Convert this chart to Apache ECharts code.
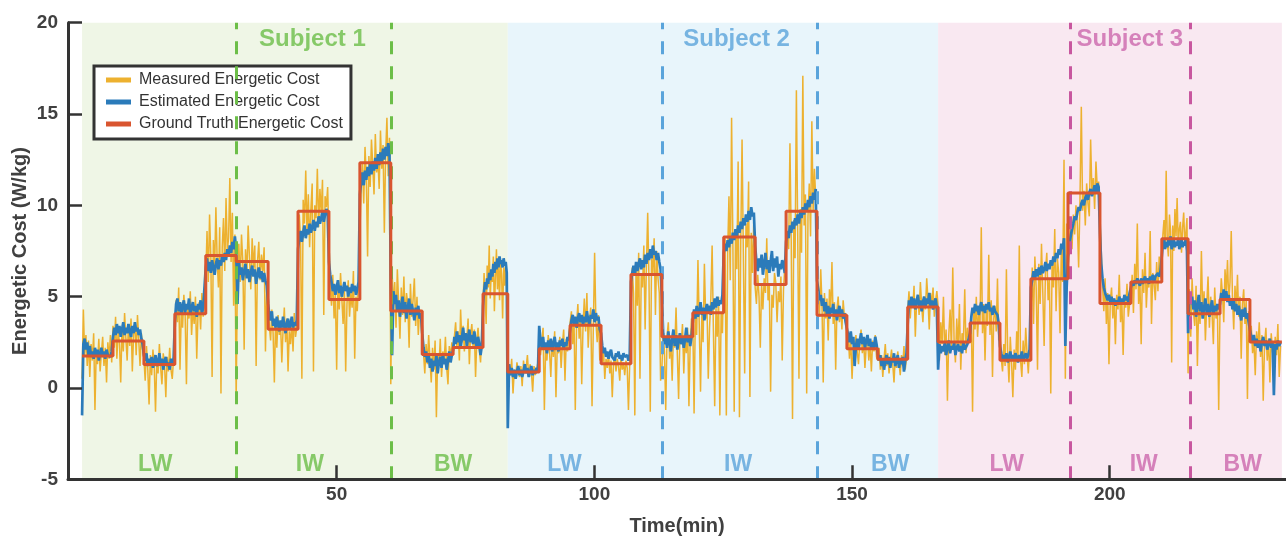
<!DOCTYPE html>
<html><head><meta charset="utf-8">
<script src="https://cdn.jsdelivr.net/npm/echarts@6/dist/echarts.min.js"></script>
<style>html,body{margin:0;padding:0;background:#fff}#c{width:1286px;height:536px}</style>
</head><body><div id="c"></div>
<script>
// step boundaries (min): 39 steps + final end
const stepBounds = [0.6,6.6,12.6,18.6,24.6,30.5,36.7,42.5,48.5,54.5,60.5,66.6,72.6,78.4,
  83.2,89.3,95.3,101.3,107.1,113.1,119.1,125.1,131.2,137.2,143.2,149.0,155.0,160.8,
  166.7,172.9,178.7,184.7,191.9,198.1,204.1,210.1,215.2,221.4,227.2,233.4];
const groundTruth = [1.75,2.57,1.28,4.07,7.26,6.93,3.21,9.68,4.85,12.33,4.21,1.83,2.21,5.16,
  0.88,2.15,3.43,1.33,6.22,2.81,4.12,8.26,5.66,9.68,3.98,2.15,1.57,4.43,
  2.52,3.56,1.52,5.98,10.67,4.62,5.8,8.17,4.07,4.84,2.52];
const measured = [
 [0.5,4.3,1.8,2.9,1.2,2.6,0.6,2.4,1.5,3.0,-1.2,2.1,1.3,2.7,0.9,1.9,2.8,1.2,2.2,0.3,2.5,1.6,2.9,1.4],
 [3.4,2.2,3.9,1.6,3.1,2.5,0.3,3.3,2.0,4.1,2.7,1.5,3.5,2.3,3.8,0.9,2.9,3.6,1.8,4.0,2.6,1.2,3.0,2.1],
 [1.6,0.4,2.3,1.0,-0.9,1.8,0.7,2.1,1.2,-1.3,1.5,0.8,2.4,1.1,0.2,1.9,1.3,-0.5,1.7,0.9,2.2,1.0,0.5,1.6],
 [2.5,4.8,3.6,5.5,1.0,4.2,3.3,5.1,4.0,0.2,4.6,3.8,5.3,2.9,4.4,3.5,5.0,1.6,4.1,4.7,3.2,5.2,3.9,4.5],
 [6.0,8.6,5.8,9.5,7.2,0.6,8.1,6.6,9.9,7.0,5.5,8.8,-0.3,7.7,9.3,6.4,10.4,7.5,8.2,11.5,6.9,9.6,4.5,8.4],
 [-0.7,6.5,7.9,5.8,8.4,6.9,2.1,7.6,6.2,8.9,7.1,5.4,8.2,6.6,7.8,1.2,6.9,8.0,5.9,7.3,6.4,7.7,2.0,5.5],
 [5.5,3.4,2.6,4.3,3.0,0.3,3.7,2.2,4.0,2.9,3.5,1.4,3.2,4.4,2.5,3.8,0.9,3.1,2.4,3.6,2.0,4.1,2.8,3.3],
 [7.0,9.5,8.1,0.5,10.3,9.0,11.9,8.4,10.6,7.7,9.8,11.2,0.9,10.0,9.3,12.0,8.8,10.9,9.6,11.4,4.0,10.5,9.9,11.0],
 [8.0,5.6,4.5,6.2,3.8,5.1,1.0,5.7,4.3,6.3,4.9,3.5,5.4,0.9,4.6,5.9,3.9,5.2,4.4,6.4,1.6,5.0,4.2,6.0],
 [6.0,10.8,12.3,10.1,13.2,11.5,7.2,12.7,11.0,13.6,12.2,10.6,13.9,11.8,12.5,10.9,14.1,12.0,13.3,8.5,12.8,14.8,11.6,13.7],
 [0.2,6.3,4.5,5.8,3.3,6.5,4.7,2.7,5.5,4.0,6.1,3.6,5.2,4.6,2.2,5.7,3.9,4.8,6.0,3.4,5.0,2.9,4.3,3.7],
 [2.6,1.9,0.8,2.4,1.3,2.9,1.6,0.3,2.2,1.0,2.6,-1.6,1.8,1.2,2.7,0.6,2.0,1.4,2.8,1.1,0.2,2.3,1.7,2.5],
 [1.9,2.8,3.6,2.2,3.1,1.5,4.3,2.5,3.4,2.0,3.0,2.7,3.8,1.3,2.9,3.5,2.3,3.2,0.6,2.6,3.3,2.1,1.4,2.8],
 [4.6,6.3,5.2,3.5,6.7,5.5,7.8,4.9,6.4,5.8,7.2,4.2,6.0,7.6,5.4,6.9,4.8,7.0,6.2,3.8,6.6,5.6,6.9,5.0],
 [0.4,1.3,0.7,1.6,-0.3,1.0,0.5,1.4,0.9,0.6,1.2,0.1,1.5,0.8,1.1,1.8,0.6,1.3,0.9,-0.2,1.2,0.7,1.0,1.4],
 [2.9,1.8,2.5,3.3,-1.2,2.2,1.5,2.9,2.0,0.6,2.6,1.7,3.1,-0.5,2.3,1.9,2.8,1.1,2.4,3.2,0.4,2.7,2.0,3.0],
 [3.0,4.2,2.4,3.8,-1.2,3.5,4.6,2.7,3.9,0.2,3.4,4.9,3.1,5.2,2.2,3.7,4.4,-1.0,3.3,7.4,3.6,2.5,4.0,1.5],
 [2.8,1.4,2.0,0.5,1.6,1.1,1.9,0.8,1.5,-0.5,1.3,1.8,0.9,1.6,1.2,0.4,1.7,1.0,1.4,0.7,1.5,1.1,-1.2,1.3],
 [3.5,6.6,5.2,-1.5,6.9,4.5,7.4,0.5,6.2,5.5,7.8,3.2,6.7,9.6,5.9,-1.3,7.1,6.3,8.2,4.0,7.5,6.0,5.2,0.4],
 [1.0,3.2,2.0,-1.2,2.8,3.6,1.6,2.5,0.4,3.1,2.2,4.4,1.8,-0.6,2.9,2.4,3.5,0.8,2.7,1.9,3.3,-1.0,2.6,3.8],
 [3.6,-1.4,4.2,2.9,7.0,3.5,-0.2,4.0,2.5,6.8,3.8,4.6,0.5,3.3,4.9,7.8,3.1,-1.0,4.4,2.8,5.0,-1.5,4.1,3.0],
 [6.8,8.2,-1.5,7.4,10.5,5.9,14.8,7.9,-1.3,8.6,6.5,12.4,-1.6,8.0,13.6,7.2,0.8,9.0,7.7,11.3,-0.5,8.5,6.3,9.4],
 [5.5,4.6,6.2,5.0,2.2,5.7,4.3,6.0,5.2,8.2,4.8,5.6,-0.2,5.1,4.4,6.3,5.8,3.6,5.3,4.7,6.1,1.5,5.4,6.6],
 [6.9,8.5,7.6,13.4,8.0,-1.7,9.2,7.1,16.3,8.6,0.5,9.8,7.4,17.1,8.9,10.6,-0.3,9.4,11.2,8.3,14.6,9.7,12.0,10.4],
 [4.5,5.6,3.9,6.5,4.6,0.3,5.2,3.8,4.9,2.6,5.4,4.2,6.9,3.5,4.7,1.0,4.3,5.0,3.6,4.4,3.2,4.8,3.9,4.1],
 [2.4,3.0,1.6,2.7,0.5,2.2,1.8,2.9,2.0,1.3,2.5,3.2,1.9,2.6,1.1,2.3,2.8,1.5,2.4,0.9,2.6,2.0,2.9,1.7],
 [1.5,2.2,1.0,1.8,0.6,1.6,2.4,1.2,1.9,0.8,1.5,2.1,1.3,0.3,1.7,1.1,2.0,1.4,0.7,1.8,1.2,2.3,1.0,1.6],
 [4.2,5.3,3.8,4.9,4.4,5.6,2.8,4.7,5.1,4.0,5.8,4.5,3.6,5.0,4.3,6.0,4.8,3.2,5.2,4.6,5.5,3.9,4.8,5.3],
 [4.5,1.5,3.6,2.4,5.0,1.8,3.2,-0.7,2.9,4.3,2.1,6.6,2.6,1.4,3.8,2.2,4.6,1.0,3.0,2.5,5.4,1.9,3.3,2.7],
 [2.5,3.9,-1.3,4.4,3.2,5.0,2.8,4.1,3.6,8.8,3.0,4.6,1.5,4.2,3.4,7.3,2.9,4.8,0.6,3.8,4.5,3.1,6.0,2.6],
 [3.5,1.6,0.9,2.4,1.2,6.5,1.8,0.3,2.8,1.4,-0.5,2.1,1.0,3.1,1.7,7.8,1.5,0.6,2.6,1.3,3.3,1.9,0.8,2.2],
 [4.0,6.6,3.5,7.2,5.5,1.0,6.8,4.6,7.9,5.2,2.3,6.4,7.4,4.8,6.0,-0.3,6.9,5.5,8.7,4.2,7.1,6.3,3.0,7.8,5.8,12.5,0.5,9.0],
 [6.5,8.0,9.1,7.6,9.5,8.4,10.0,9.0,6.6,10.3,15.4,9.7,10.8,8.9,11.2,10.1,9.4,13.6,10.6,11.5,9.8,12.4,10.9,11.3],
 [9.2,7.5,5.6,4.2,6.0,3.5,5.2,1.3,4.7,5.5,3.8,4.9,2.4,5.1,4.3,6.2,3.6,4.8,1.8,5.0,4.4,5.7,3.9,4.6],
 [5.0,6.2,4.1,6.8,5.4,9.0,4.6,5.9,2.4,6.5,5.2,7.4,4.4,6.0,5.5,8.6,3.5,6.3,5.7,4.8,6.9,5.3,7.2,6.0],
 [7.0,8.4,9.2,7.6,11.9,8.0,7.2,9.5,8.6,1.4,8.9,7.5,9.8,8.3,10.4,7.8,8.7,9.1,7.4,8.8,9.6,7.9,8.5,9.3],
 [0.8,5.4,2.8,6.0,4.2,3.4,5.6,1.2,4.7,3.5,7.5,4.0,5.3,2.6,4.5,6.1,3.3,5.0,4.1,2.4,5.5,3.8,4.6,-1.2],
 [4.4,6.0,5.1,3.6,6.5,5.3,7.0,4.7,5.8,8.6,4.9,3.2,5.6,4.3,6.2,3.9,5.0,1.6,4.6,5.4,3.5,4.8,-0.6,4.2],
 [2.8,3.4,1.9,2.6,0.7,3.1,2.2,3.6,1.7,2.9,-0.7,2.4,3.3,1.5,2.7,0.3,3.0,2.0,1.2,2.8,1.8,3.5,0.6,2.3]
];
const estimated = [
 [-1.5,2.4,2.7,2.1,2.5,1.8,2.3,1.7,2.0,1.6,2.2,1.8,2.1,1.5,1.9,2.2,1.7,2.0,1.6,2.1,1.8,1.9,1.7,2.0],
 [2.8,3.3,2.9,3.5,3.0,3.4,2.8,3.2,3.6,2.9,3.3,3.0,3.5,3.1,2.8,3.4,3.0,3.6,3.1,3.3,2.9,3.2,2.7,2.4],
 [1.8,1.5,1.9,1.2,1.6,1.3,1.7,1.1,1.5,1.8,1.2,1.4,1.9,1.3,1.6,1.0,1.5,1.7,1.2,1.4,1.0,1.6,1.3,1.5],
 [3.6,4.6,4.9,4.2,4.7,4.0,4.5,4.8,4.1,4.6,4.3,4.9,4.0,4.4,4.7,4.2,4.5,3.9,4.6,4.3,4.8,4.1,4.4,4.5],
 [6.6,7.1,6.4,6.9,6.3,7.0,6.6,6.2,6.8,7.1,6.5,7.0,6.7,7.3,6.9,7.4,7.0,7.6,7.2,7.8,7.4,8.0,7.6,8.3],
 [7.5,4.6,6.9,6.2,6.6,5.9,6.4,6.8,6.0,6.5,5.8,6.3,6.7,6.1,6.5,5.7,6.2,6.6,6.0,6.4,5.8,6.3,5.9,5.6],
 [4.6,4.0,3.7,4.2,3.4,3.8,3.3,3.9,3.5,3.1,3.7,3.3,3.9,3.4,3.0,3.6,3.8,3.2,3.5,3.9,3.3,3.6,3.4,3.7],
 [7.6,8.2,8.6,8.0,8.5,8.9,8.2,8.7,8.4,9.0,8.5,8.8,9.2,8.6,9.1,8.8,9.4,9.0,9.3,9.7,9.1,9.5,9.8,9.6],
 [6.9,6.2,5.8,5.3,5.7,5.1,5.5,5.9,5.2,5.6,5.0,5.4,5.8,5.3,5.6,5.0,5.5,5.2,5.7,5.3,5.6,5.1,5.4,5.8],
 [10.6,11.3,11.8,11.1,11.9,11.4,12.1,11.6,12.3,11.7,12.4,11.9,12.6,12.0,12.8,12.2,12.9,12.4,13.1,12.5,13.2,12.7,13.4,12.9],
 [5.8,1.8,5.3,4.6,5.1,4.2,4.8,3.9,4.5,5.0,4.1,4.7,3.8,4.4,4.9,4.0,4.6,4.2,3.7,4.4,4.0,4.5,3.8,4.1],
 [3.0,2.2,1.7,2.0,1.4,1.8,1.1,1.6,0.9,1.5,1.2,1.8,0.8,1.4,1.7,1.1,1.9,1.3,1.6,1.0,1.5,2.0,1.4,1.8],
 [2.1,2.8,2.4,3.1,2.5,2.9,2.2,2.7,3.3,2.6,3.0,2.3,2.8,3.2,2.5,2.9,2.4,3.1,2.6,2.2,2.8,2.4,1.8,2.3],
 [4.5,5.3,5.8,5.4,6.0,5.7,6.3,5.9,6.5,6.1,6.8,6.3,6.9,6.5,7.1,6.6,7.2,6.8,7.0,6.6,7.1,6.7,6.9,6.3],
 [-2.2,1.3,0.7,1.1,0.6,1.0,0.5,0.9,1.2,0.7,1.0,0.6,0.9,1.3,0.8,1.1,0.6,0.9,1.2,0.7,1.0,0.8,1.1,0.9],
 [3.4,2.6,2.2,2.8,2.1,2.5,1.9,2.6,2.2,2.7,2.0,2.4,2.8,2.2,2.5,2.0,2.6,2.3,2.7,2.1,2.5,2.3,2.8,2.6],
 [3.2,3.7,4.0,3.5,3.9,3.3,3.8,4.1,3.6,4.0,3.4,3.9,3.6,4.2,3.7,3.5,4.0,3.8,4.3,3.6,4.1,3.7,3.9,3.2],
 [3.0,2.3,1.9,2.2,1.7,2.0,1.6,1.9,2.1,1.7,1.8,1.5,1.9,1.7,2.0,1.6,1.8,1.5,1.9,1.7,1.6,1.8,1.5,1.7],
 [5.8,6.3,6.7,6.2,6.9,6.4,6.8,7.1,6.5,7.0,6.6,7.3,6.8,7.4,7.0,7.6,7.1,7.8,7.3,7.5,7.0,7.4,6.9,6.5],
 [5.0,3.0,2.4,2.8,2.2,3.1,2.5,2.0,2.7,3.2,2.3,2.9,2.1,2.6,3.0,2.4,2.8,2.2,2.7,3.3,2.5,2.9,2.3,2.8],
 [3.6,4.3,3.8,4.5,3.9,4.2,4.7,4.0,4.4,3.7,4.3,4.6,4.1,4.5,4.0,4.7,4.3,4.9,4.4,5.0,4.5,4.8,4.6,5.1],
 [7.4,7.9,7.5,8.1,7.7,8.3,7.9,8.5,8.1,8.7,8.3,8.9,8.5,9.1,8.7,9.3,8.9,9.5,9.1,9.7,9.2,9.9,9.4,9.6],
 [7.8,6.9,6.4,7.1,6.6,7.3,6.2,6.8,7.4,6.5,7.0,6.3,6.9,7.5,6.4,7.1,6.6,7.2,6.1,6.8,6.5,7.0,6.7,6.3],
 [8.0,8.6,8.2,8.9,8.5,9.1,8.7,9.3,8.9,9.5,9.0,9.7,9.3,9.9,9.5,10.1,9.7,10.3,9.9,10.5,10.1,10.7,10.3,10.9],
 [5.9,5.4,4.8,5.1,4.5,4.9,4.2,4.7,4.0,4.5,3.8,4.4,4.1,4.6,3.9,4.3,3.7,4.2,4.5,3.9,4.3,3.8,4.1,3.6],
 [3.5,2.9,2.5,3.1,2.4,2.8,1.2,2.3,2.7,2.1,2.6,3.0,2.4,2.8,2.2,2.6,2.9,2.3,2.7,2.1,2.5,2.2,2.8,2.4],
 [1.9,1.5,1.8,1.2,1.6,1.0,1.5,1.8,1.3,1.7,1.1,1.6,1.4,1.9,1.2,1.5,1.8,1.1,1.6,1.3,1.7,0.9,1.5,1.9],
 [3.5,4.8,4.5,5.0,4.4,4.9,4.3,4.7,5.1,4.5,4.8,4.2,4.7,5.0,4.4,4.9,4.6,5.2,4.5,4.8,4.3,4.7,4.9,4.4],
 [1.0,2.4,1.9,2.3,2.0,2.5,1.8,2.2,2.6,1.9,2.3,2.1,2.5,1.8,2.2,2.4,2.0,2.3,1.9,2.5,2.1,2.2,2.4,2.3],
 [3.0,3.9,4.4,4.1,4.6,4.2,4.5,4.0,4.4,4.7,4.2,4.5,4.1,4.6,4.3,4.7,4.2,4.4,4.0,4.5,4.2,4.3,4.0,3.5],
 [2.3,1.9,1.6,1.8,1.5,1.9,1.4,1.7,2.0,1.6,1.8,1.5,1.9,1.7,1.4,1.8,1.6,2.0,1.5,1.7,1.9,1.6,1.8,2.1],
 [5.5,5.9,6.4,6.0,6.5,6.1,6.6,6.2,6.7,6.3,6.5,6.9,6.4,6.8,6.5,7.0,6.7,7.2,6.9,7.4,7.1,7.6,7.3,7.9,7.6,8.2,2.3,5.5],
 [7.2,7.8,8.3,8.7,9.0,9.4,9.2,9.6,9.9,9.7,10.1,10.3,10.0,10.4,10.6,10.3,10.7,10.9,10.5,10.8,11.1,10.7,11.2,11.0],
 [8.5,6.8,6.0,5.5,5.2,5.0,4.8,5.1,4.7,5.0,4.6,4.9,4.5,4.8,4.6,5.0,4.7,4.9,4.6,5.1,4.8,5.0,4.7,5.2],
 [5.5,5.8,5.6,5.9,5.7,6.0,5.8,5.6,6.0,5.7,5.9,6.1,5.8,6.0,5.7,6.1,5.9,6.2,5.8,6.1,6.0,6.3,6.1,6.4],
 [7.2,7.9,8.2,7.6,8.0,7.7,8.1,7.8,8.3,7.6,7.9,8.1,7.7,8.0,7.8,8.2,7.6,7.9,8.1,7.7,8.0,7.8,8.2,7.5],
 [3.0,5.2,4.6,5.0,4.3,4.8,3.9,4.5,5.1,4.2,4.7,3.8,4.4,4.9,4.1,4.6,3.9,4.4,4.8,4.0,4.5,4.2,4.6,4.3],
 [4.6,5.2,4.8,5.4,4.9,5.3,4.7,5.1,4.5,4.9,4.3,4.8,4.2,4.6,4.0,4.5,4.1,3.7,4.3,3.9,4.4,3.8,4.1,3.6],
 [3.2,2.8,2.5,2.9,2.3,2.7,2.2,2.6,2.0,2.5,2.8,2.3,2.6,2.1,2.4,2.7,2.2,2.5,-0.4,2.4,2.1,2.6,2.3,2.5]
];
const subjectSpans = [[0.6,83.2],[83.2,166.7],[166.7,233.4]];
const subjectNames = ['Subject 1','Subject 2','Subject 3'];
const subjectLabelX = [45.3,127.6,203.9];
const phaseBounds = [[30.6,60.5],[113.2,143.3],[192.3,215.7]];
const phaseNames = ['LW','IW','BW'];
const phaseLabelX = [[14.8,44.8,72.6],[94.2,127.9,157.4],[180.0,206.6,225.8]];
const xTicks = [50,100,150,200];
const seriesNames = ['Measured Energetic Cost','Estimated Energetic Cost','Ground Truth Energetic Cost'];

// styles
const bgColors = ['#EFF6E6','#E8F5FB','#F9E8F1'];
const accent = ['#6CBE48','#5AA4DB','#C8579F'];
const textAccent = ['#6CBE48','#5AA4DB','#CC66AC'];
const FONT = 'Liberation Sans, Arial, sans-serif';

function toPairs(groups){
  const out=[];
  groups.forEach((vals,k)=>{
    const s=stepBounds[k], e=stepBounds[k+1], n=vals.length;
    vals.forEach((v,j)=>out.push([s+j*(e-s)/n, v]));
  });
  return out;
}
const gtPairs=[];
groundTruth.forEach((v,k)=>{gtPairs.push([stepBounds[k],v]);gtPairs.push([stepBounds[k+1],v]);});

const labelData=[];
subjectNames.forEach((nm,i)=>{
  labelData.push({value:[subjectLabelX[i],19.1],name:nm,label:{color:textAccent[i],fontSize:24}});
  phaseNames.forEach((p,j)=>labelData.push({value:[phaseLabelX[i][j],-4.2],name:p,label:{color:textAccent[i],fontSize:23}}));
});

const chart=echarts.init(document.getElementById('c'),null,{renderer:'canvas'});
chart.setOption({
  animation:false,
  backgroundColor:'#fff',
  textStyle:{fontFamily:FONT},
  grid:{left:68,right:0,top:22.7,bottom:56.7,containLabel:false,outerBoundsMode:'none'},
  legend:{
    data:seriesNames, orient:'vertical', left:94, top:66,
    icon:'rect', itemWidth:25, itemHeight:5, itemGap:6,
    textStyle:{fontSize:16,color:'#333',fontFamily:FONT,lineHeight:16,padding:[0,0,0,3]},
    borderColor:'#333', borderWidth:3, backgroundColor:'#fff',
    padding:[6,8,7,12]
  },
  xAxis:{
    type:'value', min:-2.13, max:234.2, z:10,
    name:'Time(min)', nameLocation:'middle', nameGap:37, nameMoveOverlap:false,
    nameTextStyle:{fontSize:20,fontWeight:'bold',color:'#404040',fontFamily:FONT},
    axisLine:{onZero:false,lineStyle:{color:'#333',width:3}},
    axisTick:{inside:true,length:14,customValues:xTicks,lineStyle:{color:'#333',width:2.5}},
    axisLabel:{customValues:xTicks,fontSize:19,fontWeight:'bold',color:'#404040',margin:6,fontFamily:FONT},
    splitLine:{show:false}
  },
  yAxis:{
    type:'value', min:-5, max:20, interval:5, z:10,
    name:'Energetic Cost (W/kg)', nameLocation:'middle', nameGap:38, nameMoveOverlap:false,
    nameTextStyle:{fontSize:20,fontWeight:'bold',color:'#404040',fontFamily:FONT},
    axisLine:{show:true,onZero:false,lineStyle:{color:'#333',width:3}},
    axisTick:{show:true,inside:true,length:14,lineStyle:{color:'#333',width:2.5}},
    axisLabel:{fontSize:19,fontWeight:'bold',color:'#404040',margin:10,fontFamily:FONT},
    splitLine:{show:false}
  },
  series:[
    {
      name:'bg', type:'line', data:[], silent:true, z:1,
      markArea:{silent:true,data:subjectSpans.map((sp,i)=>[{xAxis:sp[0],itemStyle:{color:bgColors[i]}},{xAxis:sp[1]}])},
      markLine:{silent:true,symbol:['none','none'],label:{show:false},
        data:phaseBounds.flatMap((pb,i)=>pb.map(x=>({xAxis:x,lineStyle:{color:accent[i],width:3,type:[13,12]}})))}
    },
    {name:seriesNames[0],type:'line',data:toPairs(measured),showSymbol:false,symbol:'none',z:3,
      itemStyle:{color:'#EDB12F'},lineStyle:{color:'#EDB12F',width:1.5}},
    {name:seriesNames[1],type:'line',data:toPairs(estimated),showSymbol:false,symbol:'none',z:4,
      itemStyle:{color:'#2B7BBA'},lineStyle:{color:'#2B7BBA',width:2.7}},
    {name:seriesNames[2],type:'line',data:gtPairs,showSymbol:false,symbol:'none',z:5,
      itemStyle:{color:'#D9552F'},lineStyle:{color:'#D9552F',width:3}},
    {name:'labels',type:'scatter',data:labelData,symbolSize:0,silent:true,z:6,
      label:{show:true,position:'inside',formatter:p=>p.name,fontWeight:'bold',fontFamily:FONT}}
  ]
});
</script></body></html>
